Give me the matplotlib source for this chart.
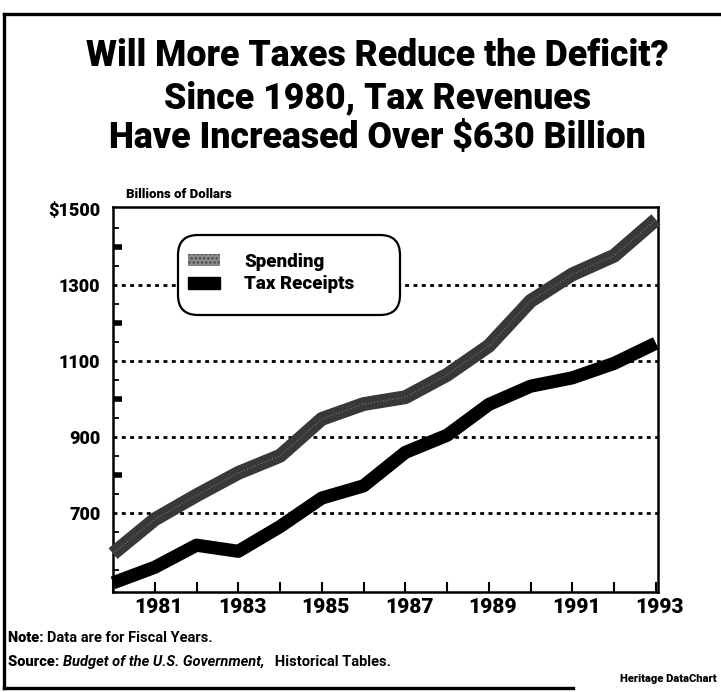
import matplotlib
matplotlib.use("Agg")
import matplotlib.pyplot as plt
from matplotlib.patches import FancyBboxPatch, Patch
from matplotlib.lines import Line2D
from matplotlib.ticker import FixedLocator, FuncFormatter, NullLocator
import matplotlib.transforms as mtransforms

# ---- data ----
years = [1980, 1981, 1982, 1983, 1984, 1985, 1986, 1987, 1988, 1989, 1990, 1991, 1992, 1993]
spending = [594, 684, 747, 806, 851, 948, 987, 1005, 1064, 1140, 1258, 1328, 1377, 1472]
tax_receipts = [517, 558, 616, 600, 665, 740, 772, 860, 905, 986, 1034, 1056, 1094, 1147]
xtick_years = [1981, 1983, 1985, 1987, 1989, 1991, 1993]
ytick_values = [700, 900, 1100, 1300, 1500]
grid_values = [700, 900, 1100, 1300]
minor_values = [550, 650, 750, 850, 950, 1050, 1150, 1250, 1350, 1450]
mid_values = [600, 800, 1000, 1200, 1400]
title_lines = ["Will More Taxes Reduce the Deficit?",
               "Since 1980, Tax Revenues",
               "Have Increased Over $630 Billion"]
series_labels = ["Spending", "Tax Receipts"]

FONT = "Roboto"
W, H = 721, 692
fig = plt.figure(figsize=(W / 100, H / 100), dpi=100)
fig.patch.set_facecolor("white")

def fx(px):
    return px / W

def fy(py):
    return 1 - py / H

# axes: left 113, right 658, top 207, bottom 592 (pixels)
ax = fig.add_axes([fx(113), fy(592), fx(658) - fx(113), (592 - 207) / H])
ax.set_xlim(1980, 1993.05)
ax.set_ylim(493, 1505)

for s in ax.spines.values():
    s.set_linewidth(1.8)
    s.set_color("black")

# grid lines (dotted)
for g in grid_values:
    ax.axhline(g, color="black", lw=2.0, linestyle=(0, (1.4, 1.6)), zorder=1)

# series
ax.plot(years, spending, color="#383838", lw=10, solid_capstyle="butt",
        solid_joinstyle="round", zorder=3, clip_on=False)
ax.plot(years, spending, color="#8c8c8c", lw=1.0, linestyle=(0, (0.6, 1.6)),
        zorder=3.1, clip_on=False, alpha=0.8)
ax.plot(years, tax_receipts, color="black", lw=9.5, solid_capstyle="butt",
        solid_joinstyle="round", zorder=3, clip_on=False)

# y ticks
ax.yaxis.set_major_locator(FixedLocator(ytick_values))
ax.yaxis.set_minor_locator(NullLocator())
ax.yaxis.set_major_formatter(FuncFormatter(lambda v, p: f"${int(v)}" if v == 1500 else f"{int(v)}"))
ax.tick_params(axis="y", which="major", length=0, pad=9, labelsize=13)
ytr = ax.get_yaxis_transform()
for v in minor_values:
    ax.plot([0, 0.011], [v, v], color="black", lw=1.3, solid_capstyle="butt",
            transform=ytr, zorder=2)
for v in mid_values:
    ax.plot([0, 0.016], [v, v], color="black", lw=4, solid_capstyle="butt",
            transform=ytr, zorder=2)

# x ticks
ax.xaxis.set_major_locator(FixedLocator(years))
ax.xaxis.set_major_formatter(FuncFormatter(lambda v, p: f"{int(round(v))}" if int(round(v)) in xtick_years else ""))
ax.tick_params(axis="x", which="major", direction="in", length=7, width=1.5, pad=4, labelsize=15)
offset = mtransforms.ScaledTranslation(4 / 100, 0, fig.dpi_scale_trans)
for lab in ax.get_xticklabels():
    lab.set_transform(lab.get_transform() + offset)
for lab in ax.get_xticklabels() + ax.get_yticklabels():
    lab.set_fontfamily(FONT)
    lab.set_fontweight("black")

# axis unit label
fig.text(fx(126), fy(198), "Billions of Dollars", fontfamily=FONT, fontweight="black",
         fontsize=9.5, ha="left", va="baseline")

# legend box
box = FancyBboxPatch((178 / 100, (H - 315) / 100), 2.22, 0.80,
                     boxstyle="round,pad=0,rounding_size=0.2",
                     transform=fig.dpi_scale_trans, facecolor="white",
                     edgecolor="black", lw=1.6, zorder=4, clip_on=False)
ax.add_patch(box)
handles = [Patch(facecolor="#8a8a8a", edgecolor="#444444", hatch="....", lw=0),
           Patch(facecolor="black", edgecolor="black")]
leg = ax.legend(handles, series_labels, loc="center left", frameon=False,
                prop={"family": FONT, "weight": "black", "size": 13.5},
                handlelength=1.7, handleheight=0.6, handletextpad=1.3,
                labelspacing=0.25, borderpad=0, borderaxespad=0)
leg.set_bbox_to_anchor((188 / 100, (H - 273) / 100), transform=fig.dpi_scale_trans)
leg.set_zorder(5)

# title
renderer = fig.canvas.get_renderer()
probe = fig.text(0, 0, title_lines[0], fontfamily=FONT, fontweight="black", fontsize=20)
wpx = probe.get_window_extent(renderer).width
probe.remove()
tsize = 20 * 584 / wpx
for line, base in zip(title_lines, [66, 108, 148]):
    fig.text(fx(377), fy(base), line, fontfamily=FONT, fontweight="black",
             fontsize=tsize, ha="center", va="baseline")

# footer
def run(parts, x0, base):
    x = x0
    for txt, kw in parts:
        t = fig.text(fx(x), fy(base), txt, fontfamily=FONT, fontsize=10.5,
                     ha="left", va="baseline", **kw)
        x += t.get_window_extent(renderer).width
    return x

run([("Note: ", {"fontweight": "black"}),
     ("Data are for Fiscal Years.", {"fontweight": "bold"})], 8, 642)
run([("Source: ", {"fontweight": "black"}),
     ("Budget of the U.S. Government,", {"fontweight": "bold", "fontstyle": "italic"}),
     ("   Historical Tables.", {"fontweight": "bold"})], 8, 666)
fig.text(fx(717), fy(682), "Heritage DataChart", fontfamily=FONT, fontweight="black",
         fontsize=8, ha="right", va="baseline")

# outer border
for xs, ys in [([4, 721], [14, 14]), ([4, 4], [14, 688]), ([4, 573], [688, 688])]:
    fig.add_artist(Line2D([fx(v) for v in xs], [fy(v) for v in ys], color="black",
                          lw=2.4, transform=fig.transFigure, solid_capstyle="projecting"))

fig.savefig("out.png", dpi=100)
